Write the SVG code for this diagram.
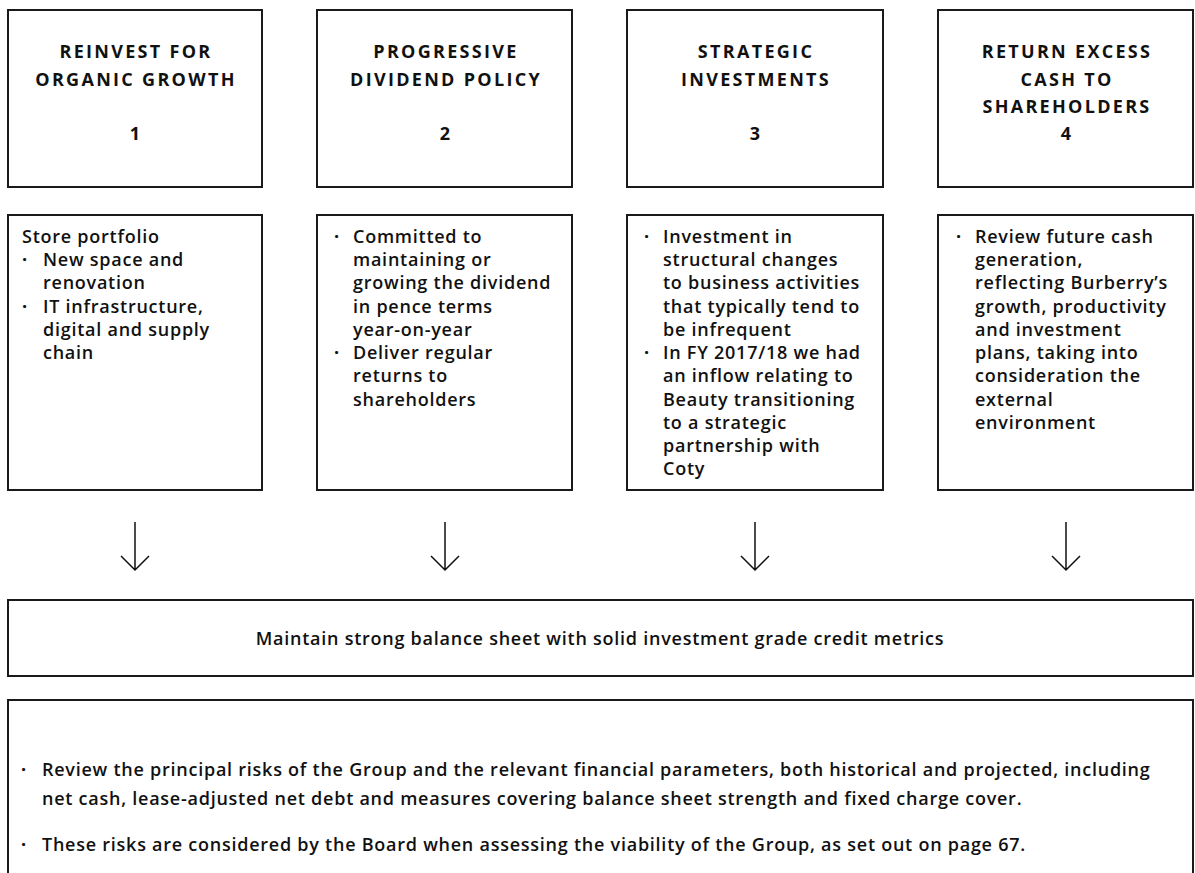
<svg xmlns="http://www.w3.org/2000/svg" width="1195" height="873" viewBox="0 0 1195 873">
<defs>
<style>
.box{fill:#ffffff;stroke:#1a1a1a;stroke-width:2}
.ttl{font-family:"Open Sans","Liberation Sans",sans-serif;font-weight:700;font-size:18px;letter-spacing:2.3px;fill:#111;text-anchor:middle}
.txt{font-family:"Open Sans","Liberation Sans",sans-serif;font-weight:600;font-size:18px;letter-spacing:0.75px;fill:#111}
.bul{font-family:"Open Sans","Liberation Sans",sans-serif;font-size:18px;font-weight:700;fill:#111}
.con{stroke:#111;stroke-width:1.5;fill:none}
</style>
</defs>
<rect width="1195" height="873" fill="#ffffff"/>

<g id="head1">
<rect class="box" x="8" y="10" width="254" height="177"/>
<text class="ttl" x="136" y="58">REINVEST FOR</text>
<text class="ttl" x="136" y="86">ORGANIC GROWTH</text>
<text class="ttl" x="136" y="140">1</text>
</g>
<g id="head2">
<rect class="box" x="317" y="10" width="255" height="177"/>
<text class="ttl" x="446" y="58">PROGRESSIVE</text>
<text class="ttl" x="446" y="86">DIVIDEND POLICY</text>
<text class="ttl" x="446" y="140">2</text>
</g>
<g id="head3">
<rect class="box" x="627" y="10" width="256" height="177"/>
<text class="ttl" x="756" y="58">STRATEGIC</text>
<text class="ttl" x="756" y="86">INVESTMENTS</text>
<text class="ttl" x="756" y="140">3</text>
</g>
<g id="head4">
<rect class="box" x="938" y="10" width="255" height="177"/>
<text class="ttl" x="1067" y="58">RETURN EXCESS</text>
<text class="ttl" x="1067" y="86">CASH TO</text>
<text class="ttl" x="1067" y="113">SHAREHOLDERS</text>
<text class="ttl" x="1067" y="140">4</text>
</g>

<g id="detail1">
<rect class="box" x="8" y="215" width="254" height="275"/>
<text class="txt" x="22" y="243">Store portfolio</text>
<text class="bul" x="22" y="266">·</text>
<text class="txt" x="43" y="266">New space and</text>
<text class="txt" x="43" y="289">renovation</text>
<text class="bul" x="22" y="313">·</text>
<text class="txt" x="43" y="313">IT infrastructure,</text>
<text class="txt" x="43" y="336">digital and supply</text>
<text class="txt" x="43" y="359">chain</text>
</g>
<g id="detail2">
<rect class="box" x="317" y="215" width="255" height="275"/>
<text class="bul" x="334" y="243">·</text>
<text class="txt" x="353" y="243">Committed to</text>
<text class="txt" x="353" y="266">maintaining or</text>
<text class="txt" x="353" y="289">growing the dividend</text>
<text class="txt" x="353" y="313">in pence terms</text>
<text class="txt" x="353" y="336">year-on-year</text>
<text class="bul" x="334" y="359">·</text>
<text class="txt" x="353" y="359">Deliver regular</text>
<text class="txt" x="353" y="382">returns to</text>
<text class="txt" x="353" y="406">shareholders</text>
</g>
<g id="detail3">
<rect class="box" x="627" y="215" width="256" height="275"/>
<text class="bul" x="644" y="243">·</text>
<text class="txt" x="663" y="243">Investment in</text>
<text class="txt" x="663" y="266">structural changes</text>
<text class="txt" x="663" y="289">to business activities</text>
<text class="txt" x="663" y="313">that typically tend to</text>
<text class="txt" x="663" y="336">be infrequent</text>
<text class="bul" x="644" y="359">·</text>
<text class="txt" x="663" y="359">In FY 2017/18 we had</text>
<text class="txt" x="663" y="382">an inflow relating to</text>
<text class="txt" x="663" y="406">Beauty transitioning</text>
<text class="txt" x="663" y="429">to a strategic</text>
<text class="txt" x="663" y="452">partnership with</text>
<text class="txt" x="663" y="475">Coty</text>
</g>
<g id="detail4">
<rect class="box" x="938" y="215" width="255" height="275"/>
<text class="bul" x="956" y="243">·</text>
<text class="txt" x="975" y="243">Review future cash</text>
<text class="txt" x="975" y="266">generation,</text>
<text class="txt" x="975" y="289">reflecting Burberry’s</text>
<text class="txt" x="975" y="313">growth, productivity</text>
<text class="txt" x="975" y="336">and investment</text>
<text class="txt" x="975" y="359">plans, taking into</text>
<text class="txt" x="975" y="382">consideration the</text>
<text class="txt" x="975" y="406">external</text>
<text class="txt" x="975" y="429">environment</text>
</g>

<g id="connectors">
<path class="con" d="M135 522V570M121 556L135 570L149 556"/>
<path class="con" d="M445 522V570M431 556L445 570L459 556"/>
<path class="con" d="M755 522V570M741 556L755 570L769 556"/>
<path class="con" d="M1066 522V570M1052 556L1066 570L1080 556"/>
</g>

<g id="balance">
<rect class="box" x="8" y="600" width="1185" height="76"/>
<text class="txt" x="600" y="645" text-anchor="middle">Maintain strong balance sheet with solid investment grade credit metrics</text>
</g>

<g id="risks">
<rect class="box" x="8" y="700" width="1185" height="200"/>
<text class="bul" x="21" y="776">·</text>
<text class="txt" x="42" y="776">Review the principal risks of the Group and the relevant financial parameters, both historical and projected, including</text>
<text class="txt" x="42" y="805">net cash, lease-adjusted net debt and measures covering balance sheet strength and fixed charge cover.</text>
<text class="bul" x="21" y="851">·</text>
<text class="txt" x="42" y="851">These risks are considered by the Board when assessing the viability of the Group, as set out on page 67.</text>
</g>
</svg>
